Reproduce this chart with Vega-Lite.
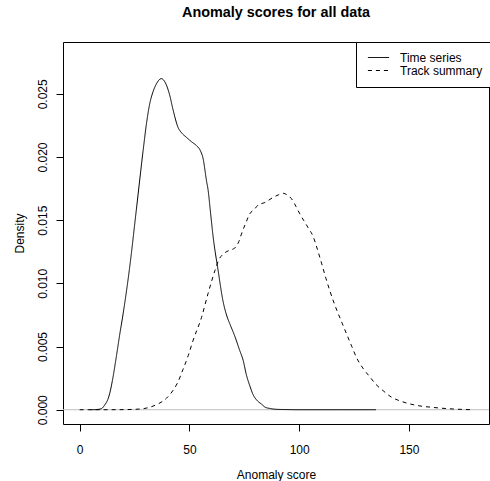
{
  "$schema": "https://vega.github.io/schema/vega-lite/v6.json",
  "width": 426,
  "height": 382,
  "autosize": {"type": "none"},
  "padding": {"left": 63, "top": 42, "right": 1, "bottom": 57},
  "background": "white",
  "title": {
    "text": "Anomaly scores for all data",
    "font": "Liberation Sans",
    "fontSize": 14.4,
    "fontWeight": "bold",
    "color": "black",
    "anchor": "middle",
    "frame": "group",
    "baseline": "alphabetic",
    "offset": 10
  },
  "config": {
    "view": {"stroke": "black", "strokeWidth": 1},
    "axis": {
      "domain": false,
      "grid": false,
      "tickSize": 7,
      "tickColor": "black",
      "tickWidth": 1,
      "labelFont": "Liberation Sans",
      "labelFontSize": 12,
      "labelColor": "black",
      "titleFont": "Liberation Sans",
      "titleFontSize": 12,
      "titleFontWeight": "normal",
      "titleColor": "black"
    }
  },
  "layer": [
    {
      "data": {"values": [{}]},
      "mark": {"type": "rule", "color": "#BEBEBE", "strokeWidth": 1},
      "encoding": {"y": {"datum": 0, "type": "quantitative"}}
    },
    {
      "data": {
        "values": [
          {"series": "Time series", "score": 5, "density": 0},
          {"series": "Time series", "score": 8, "density": 0.00002},
          {"series": "Time series", "score": 10, "density": 0.0001},
          {"series": "Time series", "score": 11.5, "density": 0.0004},
          {"series": "Time series", "score": 12.8, "density": 0.0008},
          {"series": "Time series", "score": 13.7, "density": 0.0013},
          {"series": "Time series", "score": 14.9, "density": 0.0023},
          {"series": "Time series", "score": 16.7, "density": 0.0042},
          {"series": "Time series", "score": 18.2, "density": 0.0059},
          {"series": "Time series", "score": 19.8, "density": 0.0076},
          {"series": "Time series", "score": 22.8, "density": 0.0113},
          {"series": "Time series", "score": 25.8, "density": 0.0158},
          {"series": "Time series", "score": 28.9, "density": 0.0205},
          {"series": "Time series", "score": 30.4, "density": 0.0226},
          {"series": "Time series", "score": 31.9, "density": 0.0242},
          {"series": "Time series", "score": 33.5, "density": 0.0252},
          {"series": "Time series", "score": 35.0, "density": 0.0258},
          {"series": "Time series", "score": 37.2, "density": 0.0262},
          {"series": "Time series", "score": 39.5, "density": 0.0257},
          {"series": "Time series", "score": 41.0, "density": 0.0249},
          {"series": "Time series", "score": 42.6, "density": 0.0237},
          {"series": "Time series", "score": 44.8, "density": 0.02235},
          {"series": "Time series", "score": 46.5, "density": 0.0219},
          {"series": "Time series", "score": 48.6, "density": 0.02156},
          {"series": "Time series", "score": 51.0, "density": 0.0212},
          {"series": "Time series", "score": 53.2, "density": 0.0209},
          {"series": "Time series", "score": 55.0, "density": 0.0205},
          {"series": "Time series", "score": 56.2, "density": 0.0199},
          {"series": "Time series", "score": 57.8, "density": 0.0181},
          {"series": "Time series", "score": 58.5, "density": 0.0174},
          {"series": "Time series", "score": 59.5, "density": 0.0158},
          {"series": "Time series", "score": 60.8, "density": 0.0137},
          {"series": "Time series", "score": 63.1, "density": 0.0110},
          {"series": "Time series", "score": 65.3, "density": 0.0086},
          {"series": "Time series", "score": 66.9, "density": 0.0075},
          {"series": "Time series", "score": 68.4, "density": 0.0068},
          {"series": "Time series", "score": 70.5, "density": 0.0059},
          {"series": "Time series", "score": 72.9, "density": 0.0047},
          {"series": "Time series", "score": 74.5, "density": 0.0039},
          {"series": "Time series", "score": 75.9, "density": 0.0028},
          {"series": "Time series", "score": 77.5, "density": 0.0019},
          {"series": "Time series", "score": 79.0, "density": 0.0012},
          {"series": "Time series", "score": 81.0, "density": 0.0007},
          {"series": "Time series", "score": 82.8, "density": 0.00045},
          {"series": "Time series", "score": 84.5, "density": 0.0002},
          {"series": "Time series", "score": 86.6, "density": 0.0001},
          {"series": "Time series", "score": 90, "density": 0.00003},
          {"series": "Time series", "score": 95, "density": 0.00001},
          {"series": "Time series", "score": 100, "density": 0},
          {"series": "Time series", "score": 120, "density": 0},
          {"series": "Time series", "score": 135, "density": 0},
          {"series": "Track summary", "score": 0, "density": 0},
          {"series": "Track summary", "score": 10, "density": 0},
          {"series": "Track summary", "score": 20, "density": 0.00001},
          {"series": "Track summary", "score": 27, "density": 0.00005},
          {"series": "Track summary", "score": 31, "density": 0.00015},
          {"series": "Track summary", "score": 35, "density": 0.0004},
          {"series": "Track summary", "score": 39.5, "density": 0.0009},
          {"series": "Track summary", "score": 42, "density": 0.0014},
          {"series": "Track summary", "score": 44.5, "density": 0.0021},
          {"series": "Track summary", "score": 47.1, "density": 0.0032},
          {"series": "Track summary", "score": 49.5, "density": 0.0043},
          {"series": "Track summary", "score": 51.7, "density": 0.0055},
          {"series": "Track summary", "score": 55.5, "density": 0.0073},
          {"series": "Track summary", "score": 58.5, "density": 0.0092},
          {"series": "Track summary", "score": 61.6, "density": 0.0110},
          {"series": "Track summary", "score": 63.5, "density": 0.0119},
          {"series": "Track summary", "score": 65.3, "density": 0.0123},
          {"series": "Track summary", "score": 68, "density": 0.0126},
          {"series": "Track summary", "score": 70.7, "density": 0.0128},
          {"series": "Track summary", "score": 72.5, "density": 0.0133},
          {"series": "Track summary", "score": 73.7, "density": 0.0139},
          {"series": "Track summary", "score": 75.5, "density": 0.0147},
          {"series": "Track summary", "score": 77.5, "density": 0.0155},
          {"series": "Track summary", "score": 79.8, "density": 0.0159},
          {"series": "Track summary", "score": 81.3, "density": 0.0162},
          {"series": "Track summary", "score": 84.4, "density": 0.0164},
          {"series": "Track summary", "score": 88.1, "density": 0.0168},
          {"series": "Track summary", "score": 90.5, "density": 0.0170},
          {"series": "Track summary", "score": 92.7, "density": 0.01713},
          {"series": "Track summary", "score": 94.5, "density": 0.0170},
          {"series": "Track summary", "score": 96.5, "density": 0.0167},
          {"series": "Track summary", "score": 98.5, "density": 0.0161},
          {"series": "Track summary", "score": 100.3, "density": 0.0155},
          {"series": "Track summary", "score": 102, "density": 0.0150},
          {"series": "Track summary", "score": 104.1, "density": 0.0144},
          {"series": "Track summary", "score": 106.4, "density": 0.0137},
          {"series": "Track summary", "score": 108.3, "density": 0.0127},
          {"series": "Track summary", "score": 110.2, "density": 0.0116},
          {"series": "Track summary", "score": 112.2, "density": 0.0104},
          {"series": "Track summary", "score": 114.0, "density": 0.0094},
          {"series": "Track summary", "score": 116, "density": 0.0084},
          {"series": "Track summary", "score": 117.8, "density": 0.0076},
          {"series": "Track summary", "score": 119.7, "density": 0.0068},
          {"series": "Track summary", "score": 121.6, "density": 0.0060},
          {"series": "Track summary", "score": 124, "density": 0.0050},
          {"series": "Track summary", "score": 126.2, "density": 0.0041},
          {"series": "Track summary", "score": 129, "density": 0.0033},
          {"series": "Track summary", "score": 132.2, "density": 0.0026},
          {"series": "Track summary", "score": 135, "density": 0.0020},
          {"series": "Track summary", "score": 138.3, "density": 0.0015},
          {"series": "Track summary", "score": 142, "density": 0.0010},
          {"series": "Track summary", "score": 145.9, "density": 0.0007},
          {"series": "Track summary", "score": 150, "density": 0.00048},
          {"series": "Track summary", "score": 155, "density": 0.0003},
          {"series": "Track summary", "score": 160, "density": 0.0002},
          {"series": "Track summary", "score": 164.2, "density": 0.00013},
          {"series": "Track summary", "score": 170, "density": 0.00006},
          {"series": "Track summary", "score": 175, "density": 0.00002},
          {"series": "Track summary", "score": 179.3, "density": 0}
        ]
      },
      "mark": {"type": "line", "interpolate": "monotone", "color": "black", "strokeWidth": 1},
      "encoding": {
        "x": {
          "field": "score",
          "type": "quantitative",
          "scale": {"domain": [-7.6, 186.5], "nice": false, "zero": false},
          "axis": {"values": [0, 50, 100, 150], "title": "Anomaly score", "labelPadding": 13, "titlePadding": 14}
        },
        "y": {
          "field": "density",
          "type": "quantitative",
          "scale": {"domain": [-0.00113, 0.0291], "nice": false, "zero": false},
          "axis": {
            "values": [0, 0.005, 0.01, 0.015, 0.02, 0.025],
            "format": ".3f",
            "title": "Density",
            "labelAngle": 270,
            "labelAlign": "center",
            "labelBaseline": "alphabetic",
            "labelPadding": 10,
            "titlePadding": 10
          }
        },
        "strokeDash": {
          "field": "series",
          "type": "nominal",
          "scale": {"domain": ["Time series", "Track summary"], "range": [[1, 0], [4, 4]]},
          "legend": {
            "title": null,
            "orient": "none",
            "legendX": 293,
            "legendY": 0,
            "strokeColor": "black",
            "fillColor": "white",
            "padding": 10,
            "symbolType": "stroke",
            "symbolStrokeColor": "black",
            "symbolStrokeWidth": 1,
            "symbolSize": 450,
            "symbolOffset": 1,
            "labelOffset": 10,
            "clipHeight": 11,
            "labelFont": "Liberation Sans",
            "labelFontSize": 12,
            "labelColor": "black",
            "rowPadding": 0
          }
        }
      }
    }
  ]
}
